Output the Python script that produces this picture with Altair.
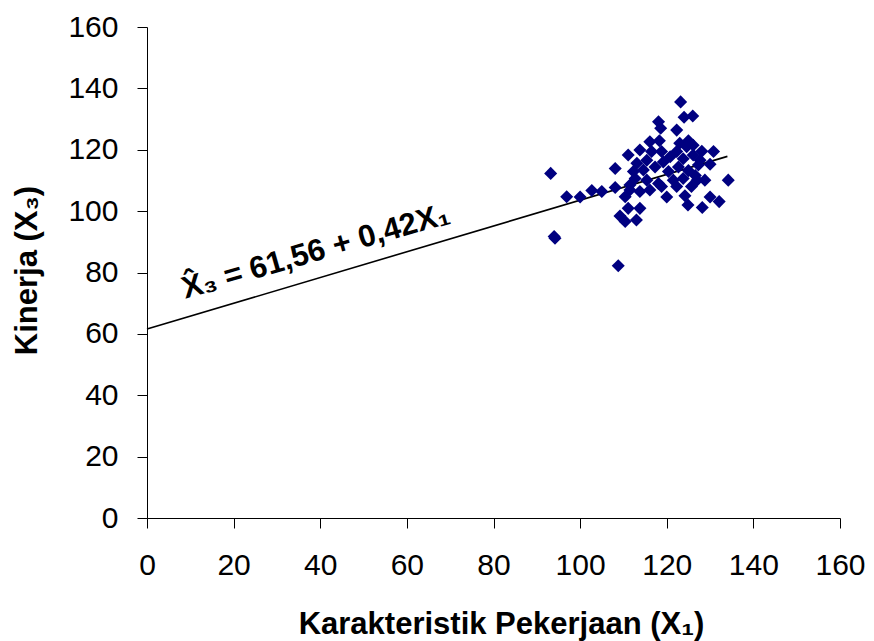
import altair as alt
import pandas as pd

# Scatter data: X1 (Karakteristik Pekerjaan), X3 (Kinerja)
x1 = [123.2, 124.0, 126.0, 118.1, 118.6, 122.3, 116.1, 118.3, 125.0, 113.8,
      111.1, 122.3, 128.1, 130.8, 124.6, 126.1, 130.0, 108.1, 93.2, 134.2,
      128.8, 96.9, 100.0, 102.7, 105.0, 108.1, 110.4, 120.0, 124.2, 130.0,
      132.1, 124.9, 128.2, 111.1, 113.8, 109.2, 110.4, 113.0, 94.0, 94.2,
      108.8, 113.1, 114.6, 115.4, 117.3, 119.2, 120.4, 122.7, 123.8, 125.0,
      126.6, 123.8, 121.5, 118.1, 115.4, 112.7, 111.5, 113.8, 116.1, 118.8,
      122.3, 125.7, 116.5, 118.8, 120.8, 127.3, 112.3, 123.0, 126.1, 111.5,
      127.7, 127.0]
x3 = [135.6, 130.6, 131.0, 129.1, 127.0, 126.4, 122.6, 122.9, 122.9, 119.9,
      118.3, 119.4, 119.5, 119.4, 121.0, 118.3, 115.3, 113.9, 112.3, 110.1,
      110.1, 104.7, 104.6, 106.7, 106.4, 107.7, 104.7, 104.6, 105.0, 104.6,
      103.1, 102.0, 101.2, 100.9, 100.9, 98.4, 96.6, 97.1, 91.7, 91.2,
      82.2, 115.6, 113.4, 116.6, 114.4, 116.0, 112.9, 114.4, 117.1, 113.2,
      111.6, 110.6, 110.1, 109.0, 110.1, 110.6, 106.9, 106.4, 106.9, 108.0,
      108.0, 108.0, 119.4, 119.4, 117.7, 115.0, 112.9, 122.1, 121.5, 108.5,
      116.6, 110.1]

# Regression line X3 = 61.56 + 0.42 X1
line_x = [0, 134]
line_y = [61.56, 61.56 + 0.42 * 134]

# Equation label
eq_text = ["X\u0302\u2083 = 61,56 + 0,42X\u2081"]
eq_x = [39.0]
eq_y = [86.7]

ticks = [0, 20, 40, 60, 80, 100, 120, 140, 160]

FONT = "Liberation Sans"

pts = pd.DataFrame({"x": x1, "y": x3})
ln = pd.DataFrame({"x": line_x, "y": line_y})
eq = pd.DataFrame({"x": eq_x, "y": eq_y, "t": eq_text})

xscale = alt.Scale(domain=[0, 160], nice=False)
yscale = alt.Scale(domain=[0, 160], nice=False)

xaxis = alt.Axis(
    title="Karakteristik Pekerjaan (X\u2081)",
    values=ticks, grid=False, format="d", labelFlush=False,
    labelFont=FONT, labelFontSize=30, labelColor="#000",
    labelPadding=22, tickSize=10, tickColor="#000", domainColor="#000",
    titleFont=FONT, titleFontSize=31, titleFontWeight="bold", titleColor="#000",
    titleX=354, titleY=115, titleBaseline="alphabetic", titleAlign="center",
)
yaxis = alt.Axis(
    title="Kinerja (X\u2083)",
    values=ticks, grid=False, format="d", labelFlush=False,
    labelFont=FONT, labelFontSize=30, labelColor="#000",
    labelPadding=19, tickSize=10, tickColor="#000", domainColor="#000",
    titleFont=FONT, titleFontSize=31, titleFontWeight="bold", titleColor="#000",
    titleAngle=270, titleX=-120, titleY=243, titleAlign="center",
    titleBaseline="middle",
)

scatter = alt.Chart(pts).mark_point(
    shape="diamond", filled=True, size=170, color="#000080", opacity=1
).encode(
    x=alt.X("x:Q", scale=xscale, axis=xaxis),
    y=alt.Y("y:Q", scale=yscale, axis=yaxis),
)

line = alt.Chart(ln).mark_line(color="#000", strokeWidth=1.6).encode(
    x=alt.X("x:Q", scale=xscale),
    y=alt.Y("y:Q", scale=yscale),
)

label = alt.Chart(eq).mark_text(
    font=FONT, fontSize=31, fontWeight="bold", color="#000",
    angle=344, align="center", baseline="middle",
).encode(
    x=alt.X("x:Q", scale=xscale),
    y=alt.Y("y:Q", scale=yscale),
    text="t:N",
)

chart = alt.layer(line, scatter, label).properties(
    width=693, height=491,
    autosize=alt.AutoSizeParams(type="none"),
    padding={"left": 147, "top": 27, "right": 34, "bottom": 123},
    background="white",
).configure_view(stroke=None)

chart.save("out.html", embed_options={"renderer": "svg", "actions": False})
